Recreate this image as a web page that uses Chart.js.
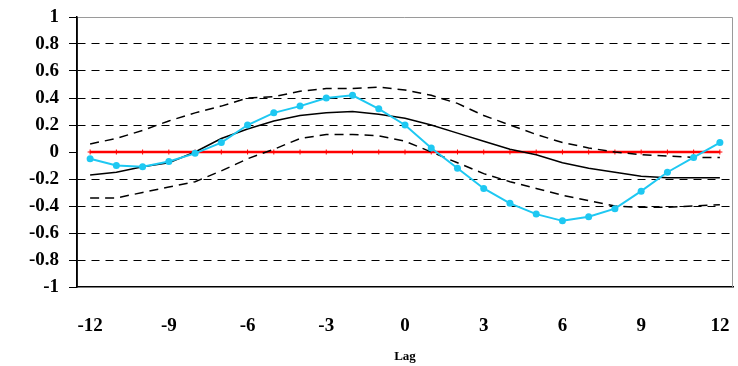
<!DOCTYPE html>
<html>
<head>
<meta charset="utf-8">
<script src="https://cdn.jsdelivr.net/npm/chart.js@4/dist/chart.umd.min.js"></script>
<style>
  html, body { margin: 0; padding: 0; background: #fff; }
  #wrap { width: 738px; height: 366px; }
</style>
</head>
<body>
<div id="wrap"><canvas id="ccf"></canvas></div>
<script>
// Cross-correlation by lag, with mean line and upper/lower bands
const lags = [-12, -11, -10, -9, -8, -7, -6, -5, -4, -3, -2, -1, 0, 1, 2, 3, 4, 5, 6, 7, 8, 9, 10, 11, 12];

const observed = [-0.05, -0.10, -0.11, -0.07, -0.01, 0.07, 0.20, 0.29, 0.34, 0.40, 0.42, 0.32, 0.20, 0.03, -0.12, -0.27, -0.38, -0.46, -0.51, -0.48, -0.42, -0.29, -0.15, -0.04, 0.07];
const mean = [-0.17, -0.15, -0.11, -0.08, 0.00, 0.10, 0.17, 0.23, 0.27, 0.29, 0.30, 0.28, 0.25, 0.20, 0.14, 0.08, 0.02, -0.02, -0.08, -0.12, -0.15, -0.18, -0.19, -0.19, -0.19];
const upper = [0.06, 0.10, 0.16, 0.23, 0.29, 0.34, 0.40, 0.41, 0.45, 0.47, 0.47, 0.48, 0.46, 0.42, 0.36, 0.27, 0.20, 0.13, 0.07, 0.03, 0.00, -0.02, -0.03, -0.04, -0.04];
const lower = [-0.34, -0.34, -0.30, -0.26, -0.22, -0.14, -0.05, 0.02, 0.10, 0.13, 0.13, 0.12, 0.08, 0.00, -0.08, -0.16, -0.22, -0.27, -0.32, -0.36, -0.40, -0.41, -0.41, -0.40, -0.39];
const zero = [0, 0, 0, 0, 0, 0, 0, 0, 0, 0, 0, 0, 0, 0, 0, 0, 0, 0, 0, 0, 0, 0, 0, 0, 0];

const yMin = -1, yMax = 1, yStep = 0.2;
const xTickEvery = 3;

const FONT = '"Liberation Serif", "Times New Roman", serif';

// Plot-area frame: gray top/right, black left axis
const frame = {
  id: 'frame',
  afterDraw(chart) {
    const { ctx, chartArea: a } = chart;
    ctx.save();
    ctx.strokeStyle = '#9a9a9a';
    ctx.lineWidth = 1;
    ctx.beginPath();
    ctx.moveTo(a.left, a.top + 0.5);
    ctx.lineTo(a.right - 0.5, a.top + 0.5);
    ctx.lineTo(a.right - 0.5, a.bottom);
    ctx.stroke();
    ctx.strokeStyle = '#000';
    ctx.lineWidth = 1.5;
    ctx.beginPath();
    ctx.moveTo(a.left, a.top);
    ctx.lineTo(a.left, a.bottom);
    ctx.stroke();
    ctx.restore();
  }
};

new Chart(document.getElementById('ccf'), {
  type: 'line',
  data: {
    labels: lags,
    datasets: [
      {
        data: zero,
        borderColor: '#ff0000',
        backgroundColor: '#ff0000',
        borderWidth: 2.5,
        pointStyle: 'cross',
        pointRadius: 2.5,
        pointBorderWidth: 1,
        order: 4
      },
      {
        data: upper,
        borderColor: '#000',
        borderWidth: 1.5,
        borderDash: [9, 6],
        pointRadius: 0,
        order: 3
      },
      {
        data: lower,
        borderColor: '#000',
        borderWidth: 1.5,
        borderDash: [9, 6],
        pointRadius: 0,
        order: 3
      },
      {
        data: mean,
        borderColor: '#000',
        borderWidth: 1.5,
        pointRadius: 0,
        order: 2
      },
      {
        data: observed,
        borderColor: '#1ec8f2',
        backgroundColor: '#1ec8f2',
        borderWidth: 2,
        pointRadius: 3.5,
        pointBorderWidth: 0,
        order: 1
      }
    ]
  },
  options: {
    responsive: true,
    maintainAspectRatio: false,
    animation: false,
    layout: { padding: { left: 0, right: 3, top: 17, bottom: 0 } },
    plugins: {
      legend: { display: false },
      tooltip: { enabled: false }
    },
    scales: {
      x: {
        type: 'category',
        offset: true,
        grid: {
          display: true,
          drawOnChartArea: false,
          drawTicks: true,
          tickLength: 22,
          tickColor: 'rgba(0,0,0,0)'
        },
        border: { color: '#000', width: 1.5 },
        ticks: {
          autoSkip: false,
          maxRotation: 0,
          padding: 6,
          color: '#000',
          font: { family: FONT, size: 19, weight: 'bold' },
          callback: (v, i) => (lags[i] % xTickEvery === 0 ? String(lags[i]) : '')
        },
        title: {
          display: true,
          text: 'Lag',
          color: '#000',
          padding: { top: 4, bottom: 2 },
          font: { family: FONT, size: 13, weight: 'bold' }
        },
        afterFit: (s) => { s.height = 79; s.paddingLeft = 0; s.paddingRight = 0; }
      },
      y: {
        min: yMin,
        max: yMax,
        border: { color: '#000', width: 1.5, dash: [8, 6] },
        grid: {
          color: (c) => {
            const v = c.tick ? c.tick.value : 0;
            return (v >= 0.999 || v <= -0.999 || Math.abs(v) < 1e-9) ? 'rgba(0,0,0,0)' : '#000';
          },
          lineWidth: 1,
          drawTicks: true,
          tickLength: 8,
          tickColor: '#000',
          tickBorderDash: [0, 0]
        },
        ticks: {
          stepSize: yStep,
          padding: 10,
          color: '#000',
          font: { family: FONT, size: 19, weight: 'bold' },
          callback: (v) => String(Math.round(v * 10) / 10)
        },
        afterFit: (s) => { s.width = 77; s.paddingTop = 0; s.paddingBottom = 0; }
      }
    }
  },
  plugins: [frame]
});
</script>
</body>
</html>
